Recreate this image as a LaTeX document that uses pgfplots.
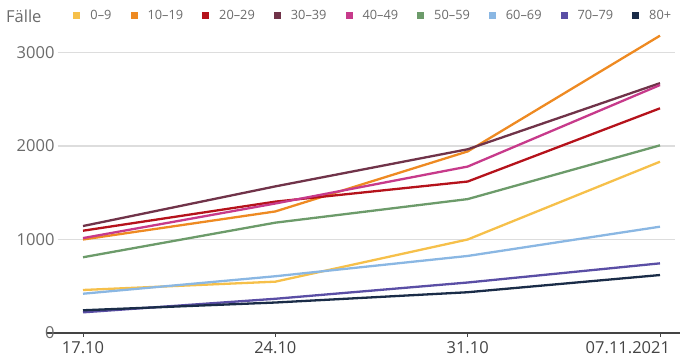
\documentclass[border=0pt]{standalone}
\usepackage{pgfplots}
\pgfplotsset{compat=1.18}
\usepackage{fontspec}
\setmainfont{Open Sans}
\definecolor{c0}{HTML}{F6C04A}
\definecolor{c1}{HTML}{EE8A22}
\definecolor{c2}{HTML}{B5121B}
\definecolor{c3}{HTML}{703349}
\definecolor{c4}{HTML}{C73A8B}
\definecolor{c5}{HTML}{6C9B6A}
\definecolor{c6}{HTML}{8AB7E3}
\definecolor{c7}{HTML}{5A4EA5}
\definecolor{c8}{HTML}{1A2C48}
\definecolor{ylab}{HTML}{6B6B6B}
\definecolor{xlab}{HTML}{444444}
\definecolor{gridc}{HTML}{DDDDDD}
\begin{document}
\begin{tikzpicture}[x=1pt,y=1pt]
\path[use as bounding box] (0,0) rectangle (680,361);
\begin{axis}[
  at={(58pt,28pt)}, anchor=south west,
  scale only axis, width=617pt, height=299.2pt,
  xmin=-0.91, xmax=21.546, ymin=0, ymax=3200,
  axis y line*=left, axis x line*=bottom,
  y axis line style={draw=none},
  x axis line style={draw=xlab, line width=1.2pt, shorten <=-11pt, shorten >=-5pt, -},
  xtick={0,7,14,21},
  xticklabels={17.10,24.10,31.10,\makebox[0pt][r]{07.11.2021\hspace{-10pt}}},
  xtick style={draw=xlab, line width=1pt},
  ytick style={draw=none},
  xtick align=outside, major tick length=4pt,
  ytick={0,1000,2000,3000},
  ymajorgrids, grid style={draw=gridc, line width=1.2pt},
  tick label style={font=\fontsize{16.5}{18}\selectfont},
  xticklabel style={text=xlab, yshift=-1pt},
  yticklabel style={text=ylab},
  /pgf/number format/assume math mode=true,
  /pgf/number format/1000 sep={},
  every axis plot/.append style={line width=2.3pt, no markers},
  legend columns=-1,
  legend style={draw=none, fill=none, inner sep=0pt, outer sep=0pt,
    at={(0.0251,1.0595)}, anchor=west,
    font=\fontsize{12.8}{14}\selectfont, text=ylab,
    /tikz/every odd column/.append style={column sep=8pt},
    /tikz/every even column/.append style={column sep=17pt}},
  legend image code/.code={\fill[#1, draw=none] (0pt,-3.5pt) rectangle (7pt,3.5pt);},
  clip=false,
]
\addplot[c0] coordinates {(0,460) (7,549) (14,1000) (21,1832)};
\addlegendentry{0–9}
\addplot[c1] coordinates {(0,1000) (7,1300) (14,1942) (21,3180)};
\addlegendentry{10–19}
\addplot[c2] coordinates {(0,1094) (7,1405) (14,1620) (21,2403)};
\addlegendentry{20–29}
\addplot[c3] coordinates {(0,1144) (7,1568) (14,1965) (21,2672)};
\addlegendentry{30–39}
\addplot[c4] coordinates {(0,1015) (7,1385) (14,1780) (21,2652)};
\addlegendentry{40–49}
\addplot[c5] coordinates {(0,810) (7,1180) (14,1432) (21,2007)};
\addlegendentry{50–59}
\addplot[c6] coordinates {(0,420) (7,607) (14,824) (21,1137)};
\addlegendentry{60–69}
\addplot[c7] coordinates {(0,221) (7,366) (14,540) (21,745)};
\addlegendentry{70–79}
\addplot[c8] coordinates {(0,243) (7,326) (14,436) (21,620)};
\addlegendentry{80+}
\node[anchor=west, text=ylab, font=\fontsize{16.5}{18}\selectfont, inner sep=0pt] at (rel axis cs:-0.0843,1.0595) {Fälle};
\end{axis}
\end{tikzpicture}
\end{document}
